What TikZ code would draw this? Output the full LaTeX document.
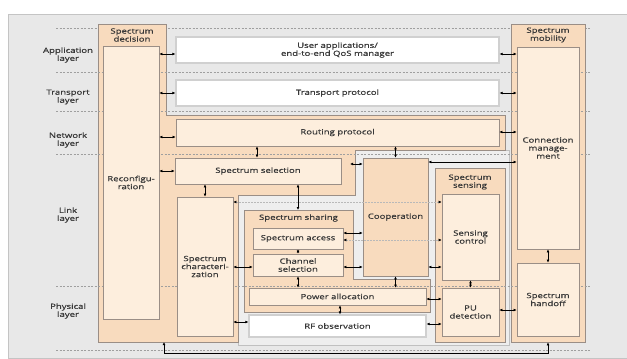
\documentclass[tikz,border=0pt]{standalone}
\usepackage{fontspec}
\setmainfont{Open Sans}[FakeStretch=1.33,FakeBold=0.7]
\usepackage{xcolor}
\usetikzlibrary{arrows.meta}

\definecolor{bggray}{HTML}{E8E8E8}
\definecolor{bgline}{HTML}{C4C4C4}
\definecolor{band}{HTML}{EEEEEE}
\definecolor{bandline}{HTML}{C0C0C0}
\definecolor{peach}{HTML}{F8DBBE}
\definecolor{cream}{HTML}{FDEEDD}
\definecolor{boxline}{HTML}{9A8E86}
\definecolor{whiteline}{HTML}{D0D0D0}
\definecolor{txtgray}{HTML}{383838}

\begin{document}
\begin{tikzpicture}[x=1pt,y=-1pt,>={Latex[length=3pt,width=2.8pt]},
        font=\fontsize{7.2}{8}\selectfont, text=txtgray,
        region/.style={draw=boxline,fill=peach,line width=0.7pt},
        blk/.style={draw=boxline,fill=cream,line width=0.7pt,inner sep=0pt,align=center},
        whitebox/.style={draw=whiteline,fill=white,line width=1.2pt,inner sep=0pt,align=center},
        lbl/.style={align=center,inner sep=0pt},
        layersep/.style={draw=gray!75,dash pattern=on 2pt off 1.5pt,line width=0.5pt},
        link/.style={<->,line width=0.6pt},
        ghost/.style={{Latex[length=3pt,width=2.8pt,color=black]}-{Latex[length=3pt,width=2.8pt,color=black]},
                draw=gray!55,dash pattern=on 1.5pt off 1.5pt,line width=0.5pt}]

        % the page and the gray panel
        \useasboundingbox[fill=white] (0,0) rectangle (627,359);
        \draw[fill=bggray,draw=bgline,line width=0.7pt] (8,14) rectangle (627,358);

        % the top layer border sits behind the regions
        \draw[layersep] (56,28) -- (590,28);

        % layer names
        \foreach \y/\name/\txt in {
            55/app/Application\\layer,
            97/trans/Transport\\layer,
            140/net/Network\\layer,
            215/link/Link\\layer,
            311/phy/Physical\\layer}
                \node[lbl] (lay-\name) at (68,\y) {\txt};

        % gray band round sharing, cooperation and sensing
        \draw[draw=bandline,fill=band,line width=0.7pt]
            (355,150) -- (509,150) -- (509,345) -- (238,345) -- (238,195) -- (355,195) -- cycle;

        % spectrum decision region
        \draw[region] (98,24) -- (166,24) -- (166,115) -- (505,115) -- (505,150) -- (355,150)
            -- (355,195) -- (238,195) -- (238,342) -- (98,342) -- cycle;

        % spectrum mobility and spectrum sensing regions
        \node[region,minimum width=74pt,minimum height=318pt,inner sep=0pt] (mobility) at (548,183) {};
        \node[region,minimum width=70pt,minimum height=174pt,inner sep=0pt] (sensing) at (470,255) {};

        % spectrum sharing region
        \draw[region] (244,210) -- (353,210) -- (353,279) -- (430,279) -- (430,312) -- (244,312) -- cycle;

        % the other layer borders
        \foreach \y in {72,111,154,286,350}
                \draw[layersep] (56,\y) -- (590,\y);

        % region titles
        \node[lbl] (dectitle) at (132,35) {Spectrum\\decision};
        \node[lbl] (mobtitle) at (548,35) {Spectrum\\mobility};
        \node[lbl] (senstitle) at (470,182) {Spectrum\\sensing};
        \node[lbl] (sharetitle) at (298.5,218) {Spectrum sharing};

        % boxes
        \node[blk,minimum width=56pt,minimum height=273pt] (recon) at (131,182.5) {Reconfigu-\\ration};
        \node[whitebox,minimum width=323pt,minimum height=26pt] (userapp) at (337.5,50) {User applications/\\end-to-end QoS manager};
        \node[whitebox,minimum width=323pt,minimum height=26pt] (transport) at (337.5,93) {Transport protocol};
        \node[blk,minimum width=323pt,minimum height=27pt] (routing) at (337.5,132.5) {Routing protocol};
        \node[blk,minimum width=166pt,minimum height=26pt] (selection) at (258,171) {Spectrum selection};
        \node[blk,minimum width=56pt,minimum height=139pt] (charact) at (205,266.5) {Spectrum\\characteri-\\zation};
        \node[blk,minimum width=90pt,minimum height=21pt] (access) at (298,238.5) {Spectrum access};
        \node[blk,minimum width=90pt,minimum height=22pt] (chansel) at (298,265) {Channel\\selection};
        \node[blk,minimum width=177pt,minimum height=17pt] (power) at (337.5,296.5) {Power allocation};
        \node[whitebox,minimum width=177pt,minimum height=22pt] (rfobs) at (337.5,326) {RF observation};
        \node[blk,fill=peach,minimum width=65pt,minimum height=118pt] (coop) at (395.5,217) {Cooperation};
        \node[blk,minimum width=57pt,minimum height=86pt] (sensctl) at (470.5,237) {Sensing\\control};
        \node[blk,minimum width=57pt,minimum height=48pt] (pudet) at (470.5,312) {PU\\detection};
        \node[blk,minimum width=62pt,minimum height=202pt] (connmgmt) at (548,148) {Connection\\manage-\\ment};
        \node[blk,minimum width=62pt,minimum height=73pt] (handoff) at (548,299.5) {Spectrum\\handoff};

        % ports on the region borders
        \coordinate (selport) at (350,164);
        \coordinate (sharetop) at (298,210);
        \coordinate (decbot) at (164,342);

        % links out of spectrum decision
        \draw[link] (recon.east |- 0,54) -- (userapp.west |- 0,54);
        \draw[link] (recon.east |- 0,93) -- (transport.west |- 0,93);
        \draw[link] (recon.east |- 0,137) -- (routing.west |- 0,137);
        \draw[link] (recon.east |- 0,171) -- (selection.west |- 0,171);

        % links into spectrum mobility
        \draw[link] (userapp.east |- 0,54) -- (connmgmt.west |- 0,54);
        \draw[link] (transport.east |- 0,93) -- (connmgmt.west |- 0,93);
        \draw[link] (routing.east |- 0,132) -- (connmgmt.west |- 0,132);
        \draw[link] (coop.east |- 0,162) -- (connmgmt.west |- 0,162);
        \draw[link] (connmgmt.south) -- (handoff.north);
        \draw[link] (pudet.east |- 0,310) -- (handoff.west |- 0,310);

        % vertical links
        \draw[link] (routing.south -| 257,0) -- (selection.north -| 257,0);
        \draw[link] (routing.south -| coop.north) -- (coop.north);
        \draw[link] (selection.south -| charact.north) -- (charact.north);
        \draw[link] (selection.south -| sharetop) -- (sharetop);
        \draw[link] (access.south) -- (chansel.north);
        \draw[link] (chansel.south) -- (power.north -| chansel.south);
        \draw[link] (coop.south) -- (power.north -| coop.south);
        \draw[link] (power.south -| 340,0) -- (rfobs.north -| 340,0);
        \draw[link] (sensctl.south) -- (pudet.north);

        % horizontal links in the link and physical layers
        \draw[link] (selport) -- (coop.west |- selport);
        \draw[link] (charact.east |- 0,267) -- (chansel.west |- 0,267);
        \draw[link] (charact.east |- 0,322) -- (rfobs.west |- 0,322);
        \draw[link] (access.east |- 0,233) -- (coop.west |- 0,233);
        \draw[link] (chansel.east |- 0,267) -- (coop.west |- 0,267);
        \draw[link] (coop.east |- 0,267) -- (sensctl.west |- 0,267);
        \draw[link] (power.east |- 0,299) -- (pudet.west |- 0,299);
        \draw[link] (rfobs.east |- 0,324) -- (pudet.west |- 0,324);

        % links that pass behind cooperation
        \draw[ghost] (charact.east |- 0,202) -- (sensctl.west |- 0,202);
        \draw[ghost] (access.east |- 0,240) -- (sensctl.west |- 0,240);

        % decision and mobility joined under the physical layer
        \draw[link] (decbot) -- ++(0,11) -| (mobility.south);
\end{tikzpicture}
\end{document}
